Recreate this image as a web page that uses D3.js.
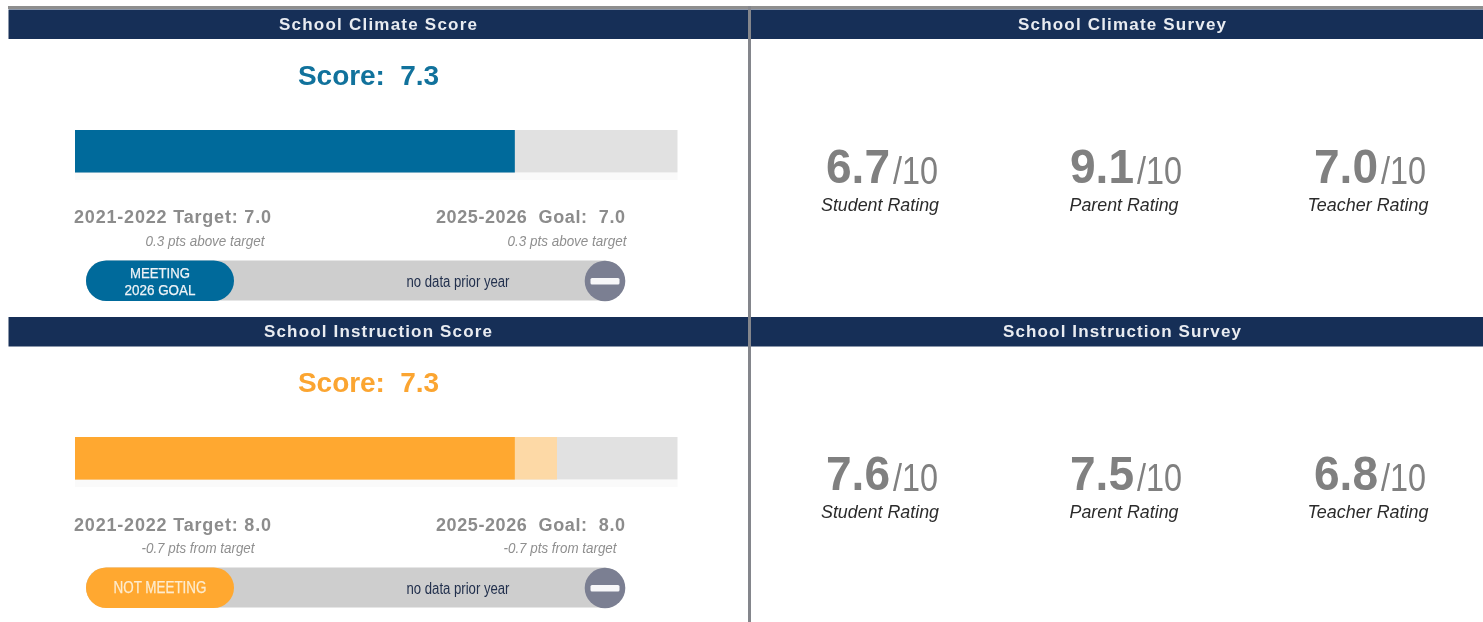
<!DOCTYPE html>
<html><head><meta charset="utf-8">
<script src="https://cdnjs.cloudflare.com/ajax/libs/d3/7.8.5/d3.min.js"></script>
<style>html,body{margin:0;padding:0;background:#fff;overflow:hidden}svg{display:block;filter:blur(0.45px)}text{font-family:"Liberation Sans",Arial,sans-serif}</style>
</head><body><div id="chart"></div>
<script>
const scoreTitles = ["School Climate Score", "School Instruction Score"];
const surveyTitles = ["School Climate Survey", "School Instruction Survey"];
const scores = [7.3, 7.3];
const targets = [7.0, 8.0];
const goals = [7.0, 8.0];
const targetNotes = ["0.3 pts above target", "-0.7 pts from target"];
const badgeLabels = [["MEETING", "2026 GOAL"], ["NOT MEETING"]];
const barColors = ["#006a9b", "#ffa830"];
const gapColors = [null, "#fdd9a6"];
const titleColors = ["#11729c", "#fba531"];
const raters = ["Student Rating", "Parent Rating", "Teacher Rating"];
const ratings = [[6.7, 9.1, 7.0], [7.6, 7.5, 6.8]];
const priorNote = "no data prior year";

const W = 1483, H = 622;
const svg = d3.select("#chart").append("svg").attr("width", W).attr("height", H);
const x = d3.scaleLinear().domain([0, 10]).range([75, 677.5]);
const raterX = d3.scalePoint().domain(raters).range([880, 1368]);
const rowY = [0, 307];
const scoreTitleW = [198, 228], surveyTitleW = [208, 238];

svg.append("rect").attr("x", 8).attr("y", 6).attr("width", W - 8).attr("height", 3).attr("fill", "#8e8e8e");

scoreTitles.forEach((t, i) => {
  const g = svg.append("g").attr("transform", `translate(0,${rowY[i]})`);
  const headTop = i === 0 ? 9.5 : 10;
  g.append("rect").attr("x", 8.5).attr("y", headTop).attr("width", 740).attr("height", 29.5).attr("fill", "#162f57");
  g.append("rect").attr("x", 751).attr("y", headTop).attr("width", W - 751).attr("height", 29.5).attr("fill", "#162f57");
  g.append("text").attr("x", 378).attr("y", 30).attr("text-anchor", "middle").attr("font-size", 17).attr("font-weight", 700).attr("fill", "#e9ecf1")
    .attr("textLength", scoreTitleW[i]).attr("lengthAdjust", "spacing").text(t);
  g.append("text").attr("x", 1122).attr("y", 30).attr("text-anchor", "middle").attr("font-size", 17).attr("font-weight", 700).attr("fill", "#e9ecf1")
    .attr("textLength", surveyTitleW[i]).attr("lengthAdjust", "spacing").text(surveyTitles[i]);

  g.append("text").attr("x", 368.5).attr("y", 85).attr("text-anchor", "middle").attr("font-size", 28).attr("font-weight", 700)
    .attr("fill", titleColors[i]).style("white-space", "pre").attr("textLength", 141).attr("lengthAdjust", "spacing").text(`Score:  ${scores[i].toFixed(1)}`);

  // bar
  g.append("rect").attr("x", x(0)).attr("y", 173).attr("width", x(10) - x(0)).attr("height", 7).attr("fill", "#fafafa");
  g.append("rect").attr("x", x(0)).attr("y", 130).attr("width", x(10) - x(0)).attr("height", 42.5).attr("fill", "#e1e1e1");
  if (gapColors[i]) g.append("rect").attr("x", x(0)).attr("y", 130).attr("width", x(targets[i]) - x(0)).attr("height", 42.5).attr("fill", gapColors[i]);
  g.append("rect").attr("x", x(0)).attr("y", 130).attr("width", x(scores[i]) - x(0)).attr("height", 42.5).attr("fill", barColors[i]);

  // targets
  const ty = i === 0 ? 223 : 224;
  g.append("text").attr("x", 172.5).attr("y", ty).attr("text-anchor", "middle").attr("font-size", 18).attr("font-weight", 700).attr("fill", "#8c8c8c")
    .style("white-space", "pre").attr("textLength", 197).attr("lengthAdjust", "spacing").text(`2021-2022 Target: ${targets[i].toFixed(1)}`);
  g.append("text").attr("x", 530.5).attr("y", ty).attr("text-anchor", "middle").attr("font-size", 18).attr("font-weight", 700).attr("fill", "#8c8c8c")
    .style("white-space", "pre").attr("textLength", 189).attr("lengthAdjust", "spacing").text(`2025-2026  Goal:  ${goals[i].toFixed(1)}`);
  const noteCx = i === 0 ? [205, 567] : [198, 560];
  noteCx.forEach(cx => {
    g.append("text").attr("x", cx).attr("y", 246).attr("text-anchor", "middle").attr("font-size", 15).attr("font-style", "italic").attr("fill", "#8f8f8f")
      .attr("textLength", i === 0 ? 119 : 113).attr("lengthAdjust", "spacingAndGlyphs").text(targetNotes[i]);
  });

  // status pill
  g.append("rect").attr("x", 86).attr("y", 260.5).attr("width", 538).attr("height", 40).attr("rx", 20).attr("fill", "#cecece");
  g.append("rect").attr("x", 86).attr("y", 260.5).attr("width", 148).attr("height", 40.5).attr("rx", 20.25).attr("fill", barColors[i]);
  const lines = badgeLabels[i];
  lines.forEach((l, k) => {
    const yy = lines.length === 2 ? 278 + k * 17 : 286;
    g.append("text").attr("x", 160).attr("y", yy).attr("text-anchor", "middle").attr("font-size", lines.length === 2 ? 15 : 16).attr("font-weight", 400)
      .attr("stroke", i === 0 ? "#eef3f7" : "#fdeccf").attr("stroke-width", 0.25).attr("fill", i === 0 ? "#eef3f7" : "#fdeccf")
      .attr("textLength", lines.length === 2 ? (k === 0 ? 60 : 71) : 93).attr("lengthAdjust", "spacingAndGlyphs").text(l);
  });
  g.append("text").attr("x", 458).attr("y", 286.5).attr("text-anchor", "middle").attr("font-size", 16).attr("fill", "#22304d")
    .attr("textLength", 103).attr("lengthAdjust", "spacingAndGlyphs").text(priorNote);
  g.append("circle").attr("cx", 605).attr("cy", 281).attr("r", 20.3).attr("fill", "#7b7f92");
  g.append("rect").attr("x", 590.5).attr("y", 278).attr("width", 29).attr("height", 6.5).attr("rx", 1.5).attr("fill", "#f7f7f9");

  // survey
  raters.forEach((r, k) => {
    const cx = raterX(r);
    g.append("text").attr("x", cx - 54).attr("y", 183).attr("font-size", 48).attr("font-weight", 700).attr("fill", "#808080")
      .attr("textLength", 64).attr("lengthAdjust", "spacingAndGlyphs").text(ratings[i][k].toFixed(1));
    g.append("text").attr("x", cx + 13).attr("y", 184).attr("font-size", 38).attr("fill", "#808080")
      .attr("textLength", 45).attr("lengthAdjust", "spacingAndGlyphs").text("/10");
    g.append("text").attr("x", cx).attr("y", 210.5).attr("text-anchor", "middle").attr("font-size", 18).attr("font-style", "italic").attr("fill", "#2b2b2b")
      .attr("textLength", r === "Student Rating" ? 118 : r === "Parent Rating" ? 109 : 121).attr("lengthAdjust", "spacingAndGlyphs").text(r);
  });
});

svg.append("rect").attr("x", 748).attr("y", 6).attr("width", 3).attr("height", H - 6).attr("fill", "#84868c");
</script></body></html>
